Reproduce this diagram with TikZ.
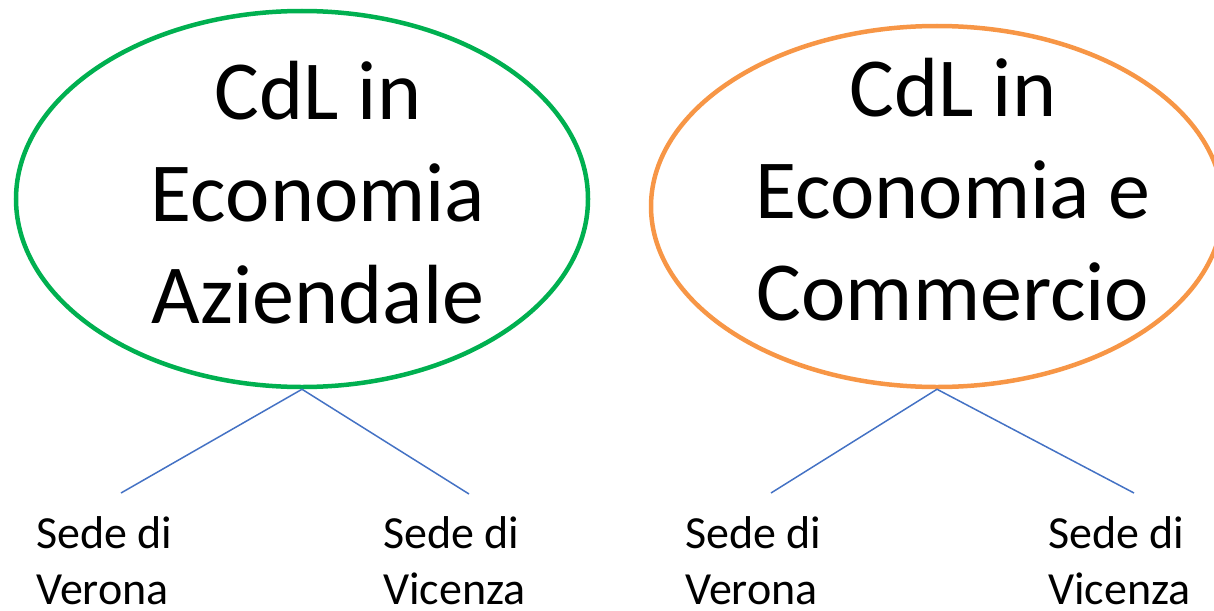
\documentclass[tikz,border=0pt]{standalone}
\usepackage{fontspec}
\setmainfont{Carlito}
\usetikzlibrary{shapes.geometric}
\definecolor{cgreen}{HTML}{00B050}
\definecolor{corange}{HTML}{F79646}
\definecolor{cblue}{HTML}{4472C4}
\tikzset{
  course/.style={ellipse, draw, line width=4.5pt, minimum width=572pt, inner sep=0pt},
  bigtext/.style={anchor=base, inner sep=0pt, font=\fontsize{84}{102}\selectfont},
  sedetext/.style={anchor=base west, inner sep=0pt, font=\fontsize{46}{56}\selectfont},
  branch/.style={draw=cblue, line width=1.5pt}
}
\begin{document}
\begin{tikzpicture}[x=1pt,y=-1pt]
\useasboundingbox (0,0) rectangle (1214,610);
\clip (0,0) rectangle (1214,610);
% ellipses
\node[course, draw=cgreen, minimum height=376pt] (ea) at (302,199) {};
\node[course, draw=corange, minimum height=361pt] (ec) at (937,206.5) {};
% titles
\node[bigtext] (ta) at (318,323) {\begin{tabular}[b]{@{}c@{}}CdL in\\Economia\\Aziendale\end{tabular}};
\node[bigtext] (tc) at (953,320) {\begin{tabular}[b]{@{}c@{}}CdL in\\Economia e\\Commercio\end{tabular}};
% sede labels
\node[sedetext] (va) at (36,548) {\begin{tabular}[t]{@{}l@{}}Sede di\\Verona\end{tabular}};
\node[sedetext] (via) at (383,548) {\begin{tabular}[t]{@{}l@{}}Sede di\\Vicenza\end{tabular}};
\node[sedetext] (vc) at (685,548) {\begin{tabular}[t]{@{}l@{}}Sede di\\Verona\end{tabular}};
\node[sedetext] (vic) at (1048,548) {\begin{tabular}[t]{@{}l@{}}Sede di\\Vicenza\end{tabular}};
% branch ends
\coordinate (la) at (121,493);
\coordinate (ra) at (469,494);
\coordinate (lc) at (771,493);
\coordinate (rc) at (1134,493);
\draw[branch] (la) -- (ea.south) -- (ra);
\draw[branch] (lc) -- (ec.south) -- (rc);
\end{tikzpicture}
\end{document}
